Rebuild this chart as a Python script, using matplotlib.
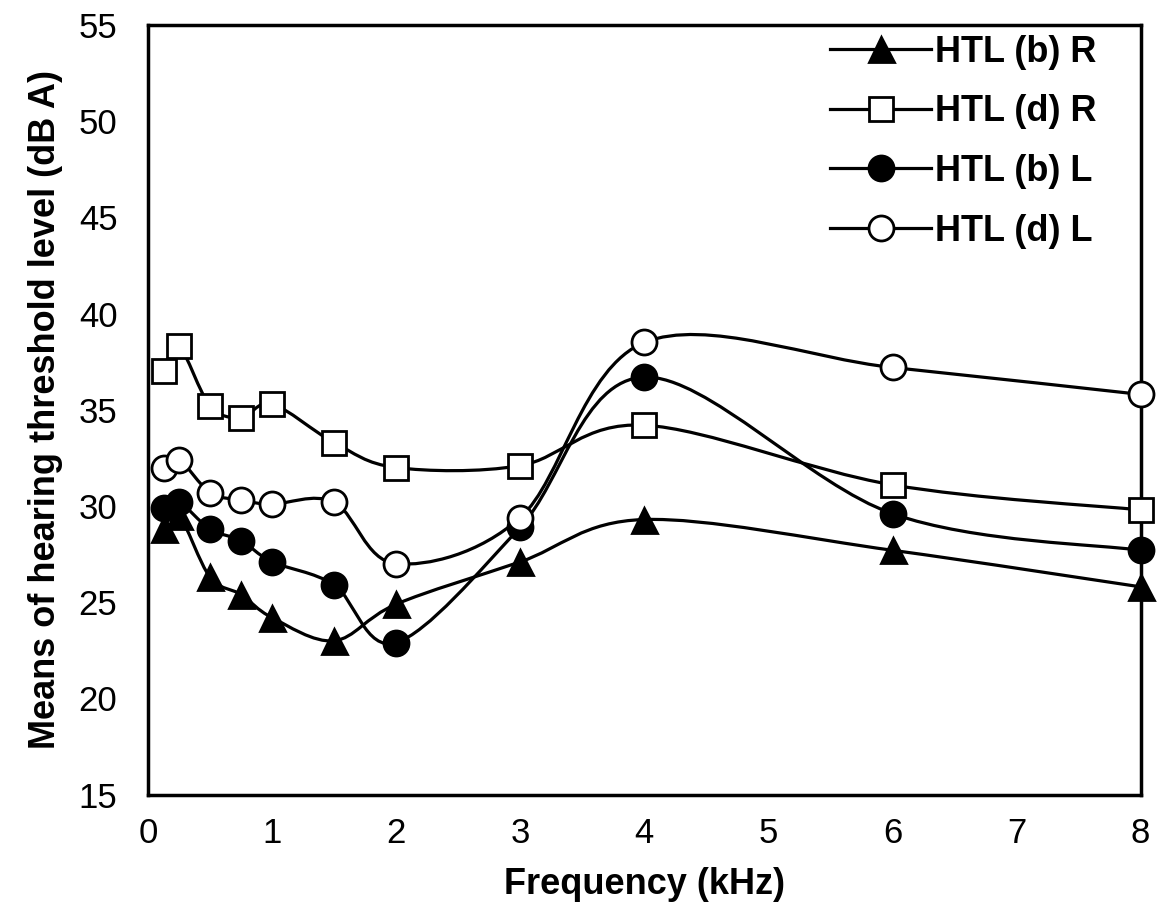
import matplotlib.pyplot as plt
import numpy as np
from matplotlib.path import Path
from matplotlib.patches import PathPatch
from matplotlib.lines import Line2D

plt.rcParams['font.family'] = ['Liberation Sans', 'DejaVu Sans']

freq = [0.125, 0.25, 0.5, 0.75, 1, 1.5, 2, 3, 4, 6, 8]

htl_b_r = [28.8, 29.5, 26.3, 25.4, 24.2, 23.0, 24.9, 27.1, 29.3, 27.7, 25.8]
htl_d_r = [37.0, 38.3, 35.2, 34.6, 35.3, 33.3, 32.0, 32.1, 34.2, 31.1, 29.8]
htl_b_l = [29.9, 30.2, 28.8, 28.2, 27.1, 25.9, 22.9, 28.9, 36.7, 29.6, 27.7]
htl_d_l = [32.0, 32.4, 30.7, 30.3, 30.1, 30.2, 27.0, 29.4, 38.5, 37.2, 35.8]

labels = ['HTL (b) R', 'HTL (d) R', 'HTL (b) L', 'HTL (d) L']
markers = ['^', 's', 'o', 'o']
faces = ['black', 'white', 'black', 'white']
msizes = [18, 17, 18, 18]


def smooth_path(x, y):
    # catmull-rom style bezier, like a spreadsheet "smoothed line"
    p = np.column_stack([x, y]).astype(float)
    pts = [p[0]]
    codes = [Path.MOVETO]
    n = len(p)
    for i in range(n - 1):
        p0 = p[i - 1] if i > 0 else p[i]
        p3 = p[i + 2] if i + 2 < n else p[i + 1]
        c1 = p[i] + (p[i + 1] - p0) / 6
        c2 = p[i + 1] - (p3 - p[i]) / 6
        pts += [c1, c2, p[i + 1]]
        codes += [Path.CURVE4] * 3
    return Path(pts, codes)


fig = plt.figure(figsize=(11.61, 9.23), dpi=100)
ax = fig.add_axes([0.1275, 0.139, 0.855, 0.834])

series = [htl_b_r, htl_d_r, htl_b_l, htl_d_l]
handles = []
for vals, lab, m, fc, ms in zip(series, labels, markers, faces, msizes):
    ax.add_patch(PathPatch(smooth_path(freq, vals), facecolor='none',
                           edgecolor='black', lw=2.3, zorder=2))
    ax.plot(freq, vals, ls='none', marker=m, ms=ms, mfc=fc, mec='black',
            mew=2, zorder=3, clip_on=False)
    handles.append(Line2D([], [], color='black', lw=2.3, marker=m, ms=ms,
                          mfc=fc, mec='black', mew=2))

ax.set_xlim(0, 8)
ax.set_ylim(15, 55)
ax.set_xticks(range(0, 9))
ax.set_yticks(range(15, 56, 5))
ax.tick_params(axis='both', length=0, labelsize=25)
ax.tick_params(axis='x', pad=16)
ax.tick_params(axis='y', pad=22)
for s in ax.spines.values():
    s.set_linewidth(2.5)

ax.set_xlabel('Frequency (kHz)', fontsize=26, fontweight='bold', labelpad=12)
ax.set_ylabel('Means of hearing threshold level (dB A)', fontsize=26,
              fontweight='bold', labelpad=11)

ax.legend(handles, labels, loc='upper left', frameon=False,
          prop={'weight': 'bold', 'size': 26}, handlelength=2.8,
          handletextpad=0.1, labelspacing=0.68, borderaxespad=0,
          borderpad=0, bbox_to_anchor=(0.687, 0.987))

fig.savefig('out.png', dpi=100)
